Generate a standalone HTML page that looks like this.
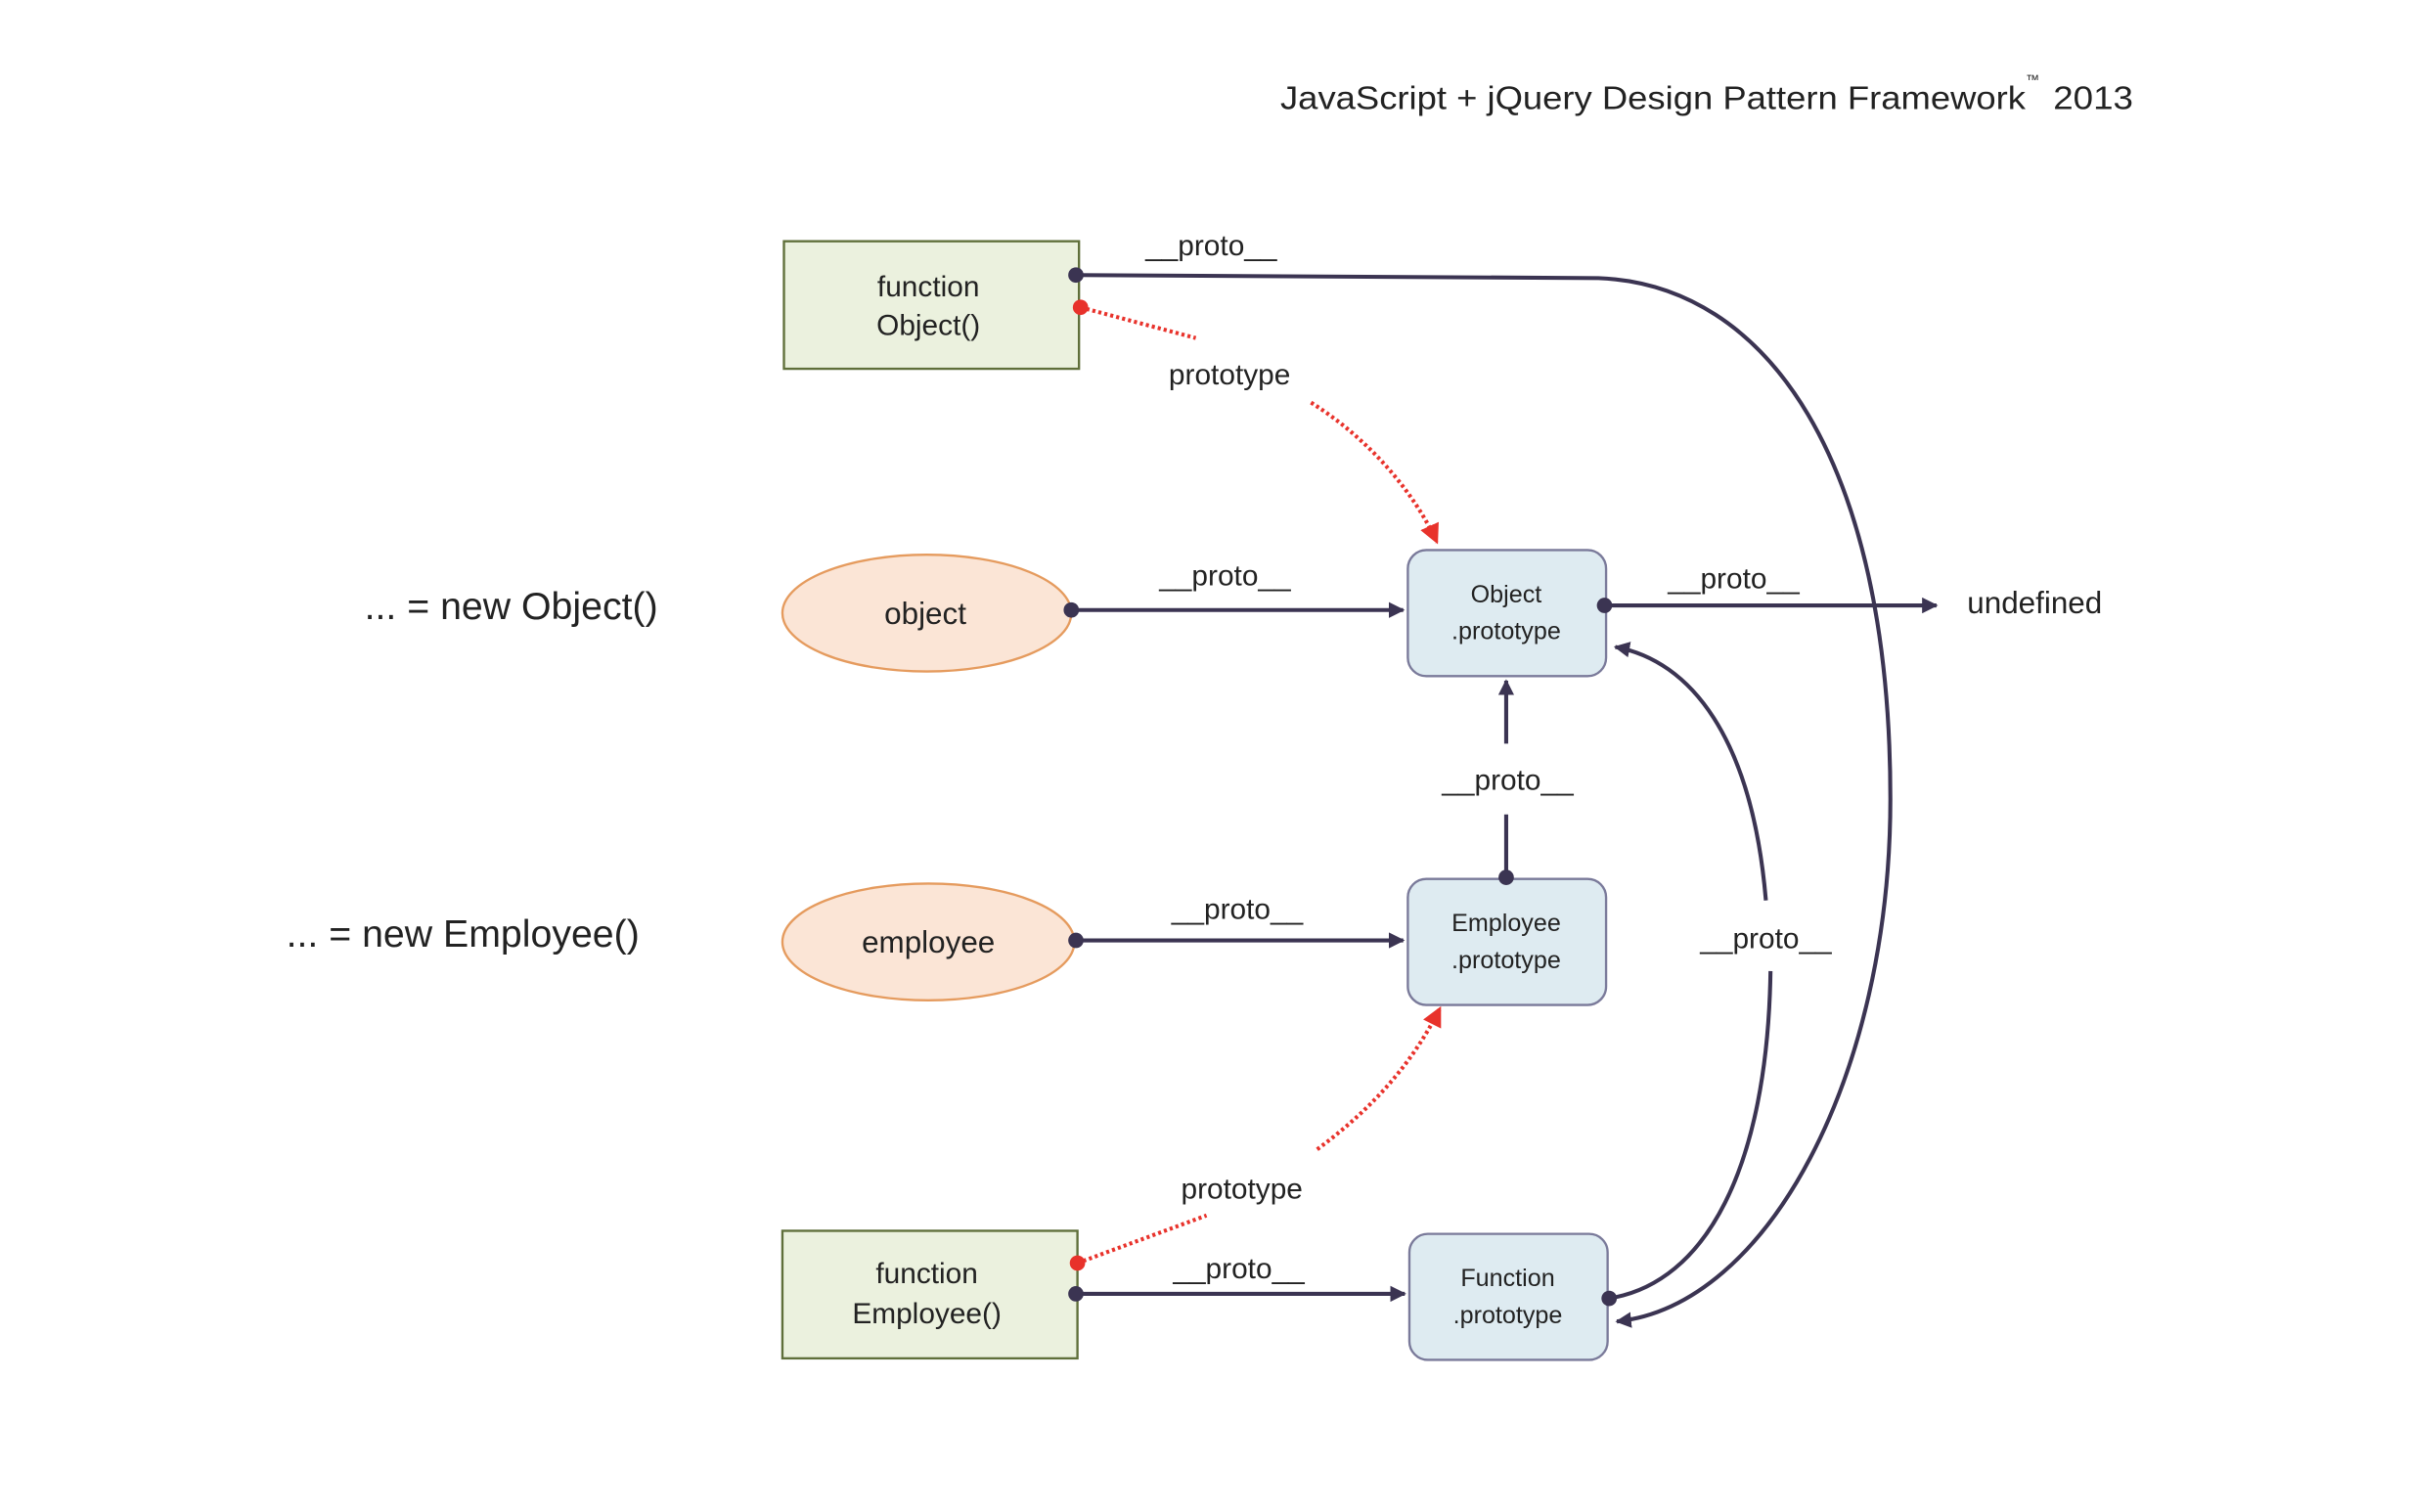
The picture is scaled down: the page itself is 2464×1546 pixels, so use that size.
<!DOCTYPE html>
<html><head><meta charset="utf-8"><style>
html,body{margin:0;padding:0;background:#fff;}
svg{display:block;}
text{font-family:"Liberation Sans",sans-serif;fill:#222;}
</style></head><body>
<svg width="2464" height="1546" viewBox="0 0 1568 984" xmlns="http://www.w3.org/2000/svg">
<defs>
<marker id="a" viewBox="0 0 10 10" refX="9" refY="5" markerWidth="4" markerHeight="4" orient="auto-start-reverse" markerUnits="strokeWidth"><path d="M0,0 L10,5 L0,10 z" fill="#3b3452"/></marker>
<marker id="ar" viewBox="0 0 10 10" refX="9" refY="5" markerWidth="5" markerHeight="5" orient="auto" markerUnits="strokeWidth"><path d="M0,0 L10,5 L0,10 z" fill="#e8322b"/></marker>
</defs>
<text x="833" y="71" font-size="21.5" textLength="485" lengthAdjust="spacingAndGlyphs">JavaScript + jQuery Design Pattern Framework</text>
<text x="1318" y="55" font-size="9">™</text>
<text x="1336" y="71" font-size="21.5" textLength="52" lengthAdjust="spacingAndGlyphs">2013</text>

<text x="428" y="403" font-size="25" text-anchor="end">... = new Object()</text>
<text x="416" y="616" font-size="25" text-anchor="end">... = new Employee()</text>

<!-- nodes -->
<rect x="510" y="157" width="192" height="83" fill="#ebf1de" stroke="#5f6f3a" stroke-width="1.5"/>
<rect x="509" y="801" width="192" height="83" fill="#ebf1de" stroke="#5f6f3a" stroke-width="1.5"/>
<ellipse cx="603" cy="399" rx="94" ry="38" fill="#fbe5d6" stroke="#e59b5e" stroke-width="1.5"/>
<ellipse cx="604" cy="613" rx="95" ry="38" fill="#fbe5d6" stroke="#e59b5e" stroke-width="1.5"/>
<rect x="916" y="358" width="129" height="82" rx="12" fill="#deebf1" stroke="#7a7a9a" stroke-width="1.5"/>
<rect x="916" y="572" width="129" height="82" rx="12" fill="#deebf1" stroke="#7a7a9a" stroke-width="1.5"/>
<rect x="917" y="803" width="129" height="82" rx="12" fill="#deebf1" stroke="#7a7a9a" stroke-width="1.5"/>

<!-- connectors -->
<g stroke="#3b3452" stroke-width="2.6" fill="none">
<path d="M700,179 L1040,181 C1150,185 1230,300 1230,520 C1230,700 1150,850 1052,860" marker-end="url(#a)"/>
<path d="M697,397 L913,397" marker-end="url(#a)"/>
<path d="M1044,394 L1260,394" marker-end="url(#a)"/>
<path d="M980,571 L980,530"/>
<path d="M980,484 L980,443" marker-end="url(#a)"/>
<path d="M700,612 L913,612" marker-end="url(#a)"/>
<path d="M700,842 L914,842" marker-end="url(#a)"/>
<path d="M1047,845 C1110,835 1150,760 1152,632"/>
<path d="M1149,586 C1140,480 1100,430 1051,421" marker-end="url(#a)"/>
</g>
<g stroke="#e8322b" stroke-width="2.6" fill="none" stroke-dasharray="2,2">
<path d="M703,200 L778,220"/>
<path d="M853,262 C890,285 920,320 935,353" marker-end="url(#ar)"/>
<path d="M701,822 L785,791"/>
<path d="M857,748 C895,720 920,690 937,656" marker-end="url(#ar)"/>
</g>
<g fill="#3b3452">
<circle cx="700" cy="179" r="5"/><circle cx="697" cy="397" r="5"/><circle cx="1044" cy="394" r="5"/>
<circle cx="980" cy="571" r="5"/><circle cx="700" cy="612" r="5"/><circle cx="700" cy="842" r="5"/><circle cx="1047" cy="845" r="5"/>
</g>
<circle cx="703" cy="200" r="5" fill="#e8322b"/>
<circle cx="701" cy="822" r="5" fill="#e8322b"/>

<!-- labels -->
<g font-size="19" text-anchor="middle">
<text x="788" y="166">__proto__</text>
<text x="800" y="250">prototype</text>
<text x="797" y="381">__proto__</text>
<text x="1128" y="383">__proto__</text>
<text x="981" y="514">__proto__</text>
<text x="805" y="598">__proto__</text>
<text x="1149" y="617">__proto__</text>
<text x="808" y="780">prototype</text>
<text x="806" y="832">__proto__</text>
</g>
<text x="1280" y="399" font-size="20">undefined</text>

<g font-size="19" text-anchor="middle">
<text x="604" y="193">function</text>
<text x="604" y="218">Object()</text>
<text x="603" y="835">function</text>
<text x="603" y="861">Employee()</text>
<text x="602" y="406" font-size="20">object</text>
<text x="604" y="620" font-size="20">employee</text>
</g>
<g font-size="16" text-anchor="middle">
<text x="980" y="392">Object</text>
<text x="980" y="416">.prototype</text>
<text x="980" y="606">Employee</text>
<text x="980" y="630">.prototype</text>
<text x="981" y="837">Function</text>
<text x="981" y="861">.prototype</text>
</g>
</svg>
</body></html>
